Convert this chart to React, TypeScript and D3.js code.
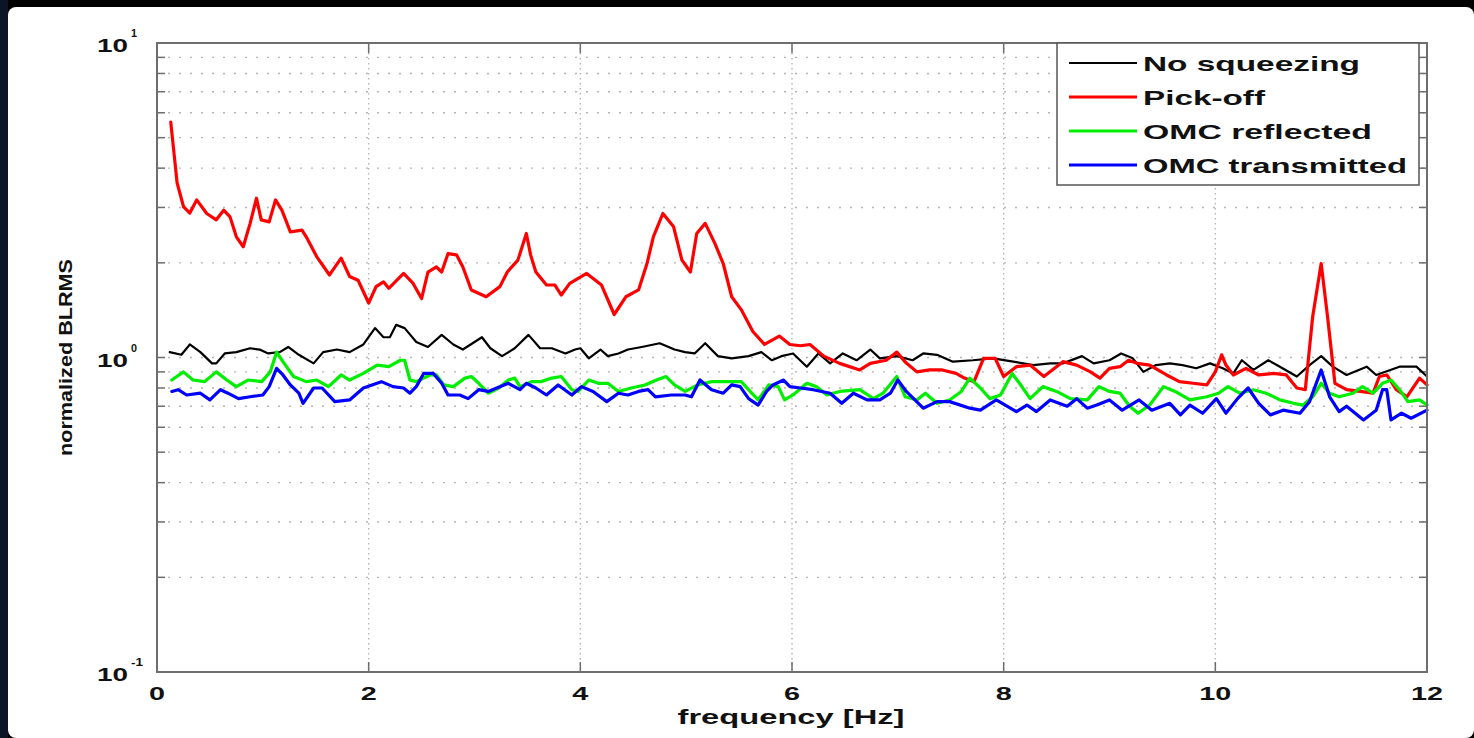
import React from "react";
import * as d3 from "d3";

type Pt = [number, number];

const seriesNames = ["No squeezing", "Pick-off", "OMC reflected", "OMC transmitted"];
const seriesColors = ["#000000", "#ff0000", "#00ee00", "#0000ff"];
const seriesWidths = [2.2, 3.2, 3.2, 3.2];

const noSqueezing: Pt[] = [
  [0.12,1.04],[0.23,1.02],[0.31,1.10],[0.41,1.04],[0.52,0.958],[0.56,0.958],[0.64,1.03],[0.75,1.04],[0.88,1.07],[0.97,1.06],
  [1.05,1.03],[1.16,1.04],[1.24,1.08],[1.34,1.02],[1.48,0.958],[1.57,1.04],[1.70,1.06],[1.82,1.04],[1.95,1.10],[2.06,1.24],
  [2.14,1.16],[2.20,1.16],[2.26,1.27],[2.34,1.24],[2.45,1.12],[2.56,1.08],[2.69,1.18],[2.80,1.10],[2.89,1.06],[3.07,1.16],
  [3.15,1.07],[3.26,1.01],[3.38,1.07],[3.51,1.18],[3.62,1.07],[3.73,1.07],[3.86,1.03],[3.95,1.06],[4.0,1.07],[4.08,0.994],
  [4.19,1.06],[4.26,1.01],[4.36,1.03],[4.45,1.06],[4.58,1.08],[4.75,1.11],[4.89,1.06],[4.99,1.04],[5.08,1.03],[5.18,1.11],
  [5.30,1.01],[5.43,0.994],[5.59,1.01],[5.71,1.04],[5.81,0.98],[5.90,1.01],[6.01,1.03],[6.14,0.935],[6.25,1.03],[6.36,0.958],
  [6.48,1.03],[6.61,0.98],[6.74,1.06],[6.83,0.994],[6.99,1.01],[7.14,0.98],[7.24,1.03],[7.37,1.02],[7.52,0.97],[7.71,0.98],
  [7.90,0.994],[8.09,0.97],[8.28,0.946],[8.44,0.958],[8.56,0.958],[8.74,1.01],[8.85,0.958],[9.0,0.98],[9.11,1.03],[9.22,0.994],
  [9.32,0.90],[9.44,0.946],[9.57,0.958],[9.69,0.946],[9.82,0.924],[9.95,0.958],[10.07,0.924],[10.17,0.89],[10.25,0.98],[10.36,0.913],
  [10.50,0.98],[10.61,0.935],[10.77,0.87],[10.89,0.946],[11.0,1.01],[11.11,0.935],[11.24,0.88],[11.43,0.935],[11.52,0.88],[11.74,0.935],
  [11.90,0.935],[12.0,0.87]
];

const pickOff: Pt[] = [
  [0.13,5.6],[0.19,3.59],[0.25,3.02],[0.31,2.88],[0.375,3.17],[0.47,2.87],[0.56,2.74],[0.63,2.94],[0.69,2.8],[0.75,2.42],
  [0.815,2.25],[0.88,2.67],[0.94,3.21],[0.985,2.74],[1.06,2.7],[1.12,3.17],[1.18,2.94],[1.26,2.51],[1.37,2.54],[1.41,2.42],
  [1.51,2.09],[1.63,1.83],[1.74,2.07],[1.82,1.81],[1.90,1.76],[2.0,1.49],[2.07,1.68],[2.14,1.74],[2.19,1.66],[2.33,1.85],
  [2.42,1.72],[2.50,1.54],[2.56,1.87],[2.64,1.94],[2.69,1.87],[2.75,2.14],[2.83,2.12],[2.89,1.94],[2.97,1.64],[3.11,1.56],
  [3.24,1.68],[3.31,1.87],[3.41,2.04],[3.49,2.48],[3.53,2.12],[3.58,1.87],[3.68,1.70],[3.76,1.70],[3.82,1.58],[3.90,1.72],
  [4.06,1.85],[4.20,1.70],[4.32,1.37],[4.43,1.56],[4.55,1.64],[4.63,1.99],[4.69,2.42],[4.78,2.87],[4.88,2.61],[4.96,2.04],
  [5.04,1.87],[5.10,2.48],[5.18,2.67],[5.27,2.31],[5.35,1.99],[5.43,1.56],[5.52,1.42],[5.63,1.21],[5.74,1.10],[5.88,1.17],
  [5.98,1.10],[6.08,1.09],[6.17,1.10],[6.30,1.01],[6.45,0.958],[6.64,0.913],[6.74,0.958],[6.89,0.98],[6.99,1.04],[7.08,0.96],
  [7.18,0.90],[7.30,0.913],[7.42,0.913],[7.55,0.89],[7.63,0.86],[7.72,0.838],[7.81,0.994],[7.92,0.994],[8.0,0.87],[8.12,0.935],
  [8.25,0.946],[8.38,0.87],[8.56,0.97],[8.69,0.946],[8.82,0.90],[8.91,0.86],[9.0,0.924],[9.10,0.935],[9.18,0.98],[9.26,0.958],
  [9.38,0.946],[9.54,0.88],[9.66,0.838],[9.79,0.828],[9.92,0.818],[10.0,0.90],[10.06,1.02],[10.10,0.946],[10.17,0.88],[10.29,0.924],
  [10.41,0.88],[10.55,0.89],[10.67,0.88],[10.77,0.80],[10.85,0.79],[10.92,1.35],[11.0,1.99],[11.06,1.35],[11.13,0.828],[11.24,0.79],
  [11.37,0.78],[11.49,0.77],[11.55,0.87],[11.62,0.88],[11.71,0.79],[11.81,0.75],[11.93,0.86],[12.0,0.818]
];

const omcReflected: Pt[] = [
  [0.14,0.848],[0.25,0.90],[0.34,0.848],[0.45,0.838],[0.56,0.90],[0.66,0.848],[0.75,0.808],[0.86,0.848],[0.99,0.838],[1.07,0.90],
  [1.13,1.04],[1.19,0.97],[1.29,0.87],[1.41,0.838],[1.51,0.848],[1.62,0.808],[1.74,0.88],[1.82,0.848],[1.95,0.89],[2.08,0.946],
  [2.19,0.935],[2.30,0.98],[2.34,0.98],[2.39,0.848],[2.45,0.838],[2.58,0.88],[2.64,0.88],[2.71,0.818],[2.80,0.808],[2.91,0.86],
  [2.97,0.87],[3.04,0.828],[3.13,0.77],[3.23,0.80],[3.32,0.848],[3.38,0.86],[3.43,0.808],[3.54,0.838],[3.63,0.838],[3.73,0.86],
  [3.82,0.87],[3.92,0.79],[3.98,0.78],[4.08,0.848],[4.17,0.828],[4.26,0.828],[4.36,0.78],[4.48,0.80],[4.61,0.818],[4.72,0.848],
  [4.81,0.87],[4.89,0.818],[4.99,0.78],[5.11,0.818],[5.24,0.838],[5.39,0.838],[5.52,0.838],[5.62,0.77],[5.68,0.733],[5.78,0.818],
  [5.87,0.808],[5.93,0.733],[6.01,0.76],[6.14,0.828],[6.23,0.808],[6.33,0.76],[6.45,0.78],[6.64,0.79],[6.77,0.74],[6.86,0.77],
  [6.99,0.87],[7.07,0.75],[7.18,0.733],[7.26,0.77],[7.37,0.715],[7.49,0.733],[7.60,0.78],[7.68,0.86],[7.78,0.80],[7.87,0.74],
  [7.97,0.76],[8.08,0.89],[8.15,0.828],[8.25,0.74],[8.37,0.808],[8.50,0.78],[8.63,0.74],[8.79,0.733],[8.90,0.808],[9.0,0.78],
  [9.10,0.77],[9.19,0.70],[9.27,0.665],[9.38,0.706],[9.51,0.808],[9.62,0.78],[9.76,0.733],[9.92,0.75],[10.03,0.77],[10.12,0.808],
  [10.23,0.77],[10.36,0.79],[10.48,0.77],[10.61,0.733],[10.74,0.715],[10.83,0.706],[10.92,0.75],[11.0,0.828],[11.08,0.77],[11.17,0.75],
  [11.30,0.77],[11.39,0.808],[11.49,0.77],[11.58,0.828],[11.66,0.848],[11.74,0.79],[11.82,0.724],[11.93,0.733],[12.0,0.706]
];

const omcTransmitted: Pt[] = [
  [0.14,0.78],[0.20,0.79],[0.28,0.76],[0.41,0.77],[0.50,0.733],[0.60,0.79],[0.67,0.77],[0.77,0.74],[0.88,0.75],[1.0,0.76],
  [1.06,0.808],[1.13,0.924],[1.19,0.88],[1.26,0.818],[1.34,0.77],[1.38,0.715],[1.48,0.80],[1.56,0.80],[1.68,0.724],[1.82,0.733],
  [1.95,0.80],[2.12,0.838],[2.23,0.808],[2.33,0.80],[2.39,0.77],[2.45,0.808],[2.52,0.89],[2.61,0.89],[2.69,0.828],[2.75,0.76],
  [2.86,0.76],[2.94,0.74],[3.04,0.79],[3.13,0.78],[3.21,0.80],[3.32,0.828],[3.43,0.79],[3.49,0.828],[3.58,0.80],[3.68,0.76],
  [3.79,0.818],[3.92,0.76],[4.01,0.808],[4.12,0.78],[4.25,0.724],[4.36,0.77],[4.45,0.76],[4.55,0.78],[4.64,0.79],[4.71,0.75],
  [4.86,0.76],[4.99,0.76],[5.05,0.75],[5.13,0.848],[5.24,0.79],[5.35,0.77],[5.43,0.818],[5.51,0.808],[5.59,0.74],[5.68,0.706],
  [5.76,0.78],[5.82,0.818],[5.92,0.848],[5.98,0.808],[6.08,0.80],[6.20,0.79],[6.36,0.77],[6.47,0.715],[6.58,0.77],[6.71,0.733],
  [6.83,0.733],[6.93,0.77],[7.00,0.848],[7.08,0.78],[7.24,0.69],[7.37,0.724],[7.49,0.724],[7.68,0.69],[7.78,0.68],[7.93,0.733],
  [8.12,0.673],[8.22,0.706],[8.31,0.673],[8.44,0.733],[8.60,0.70],[8.69,0.74],[8.79,0.69],[8.88,0.706],[9.0,0.733],[9.12,0.68],
  [9.28,0.733],[9.40,0.68],[9.57,0.715],[9.67,0.657],[9.76,0.706],[9.88,0.665],[10.01,0.74],[10.10,0.665],[10.21,0.74],[10.31,0.80],
  [10.41,0.715],[10.52,0.657],[10.64,0.68],[10.80,0.665],[10.89,0.724],[11.0,0.913],[11.08,0.75],[11.17,0.673],[11.24,0.70],[11.40,0.633],
  [11.52,0.68],[11.58,0.79],[11.62,0.79],[11.66,0.633],[11.76,0.665],[11.85,0.641],[12.0,0.68]
];

const xTicks = [0, 2, 4, 6, 8, 10, 12];
const yDecades = [{ v: 0.1, exp: "-1" }, { v: 1, exp: "0" }, { v: 10, exp: "1" }];
const yMinor = [0.2, 0.3, 0.4, 0.5, 0.6, 0.7, 0.8, 0.9, 2, 3, 4, 5, 6, 7, 8, 9];
const legendWidths = [217, 122, 229, 264];

const W = 1474;
const H = 738;
const L = 157, R = 1427, T = 43, B = 672;

export default function App() {
  const x = d3.scaleLinear().domain([0, 12]).range([L, R]);
  const y = d3.scaleLog().domain([0.1, 10]).range([B, T]);
  const line = d3.line<Pt>().x(d => x(d[0])).y(d => y(d[1]));
  const all = [noSqueezing, pickOff, omcReflected, omcTransmitted];
  const axisColor = "#6e6e6e";
  const font = "'Liberation Sans', Arial, sans-serif";

  return (
    <svg width={W} height={H} style={{ position: "absolute", left: 0, top: 0, display: "block" }}>
      <rect x={0} y={0} width={W} height={H} fill="#000" />
      <rect x={8} y={7} width={W - 8} height={H - 7} rx={8} fill="#fff" />
      <rect x={0} y={0} width={8} height={H} fill="#0c1428" />

      {/* grid */}
      {yMinor.concat([1]).map(v => (
        <line key={"hg" + v} x1={L} x2={R} y1={y(v)} y2={y(v)} stroke="#b5b5b5" strokeWidth={1.4} strokeDasharray="2,9" />
      ))}
      {xTicks.slice(1, -1).map(t => (
        <line key={"vg" + t} x1={x(t)} x2={x(t)} y1={T} y2={B} stroke="#b5b5b5" strokeWidth={1.4} strokeDasharray="1.5,3.5" />
      ))}

      {/* ticks */}
      {yMinor.concat([1]).map(v => (
        <g key={"yt" + v}>
          <line x1={L} x2={L + 8} y1={y(v)} y2={y(v)} stroke={axisColor} strokeWidth={1.5} />
          <line x1={R} x2={R - 8} y1={y(v)} y2={y(v)} stroke={axisColor} strokeWidth={1.5} />
        </g>
      ))}
      {xTicks.slice(1, -1).map(t => (
        <g key={"xt" + t}>
          <line x1={x(t)} x2={x(t)} y1={B} y2={B - 10} stroke={axisColor} strokeWidth={1.5} />
          <line x1={x(t)} x2={x(t)} y1={T} y2={T + 10} stroke={axisColor} strokeWidth={1.5} />
        </g>
      ))}

      {/* series */}
      {all.map((s, i) => (
        <path key={"s" + i} d={line(s) || ""} fill="none" stroke={seriesColors[i]} strokeWidth={seriesWidths[i]}
          strokeLinejoin="round" strokeLinecap="round" />
      ))}

      {/* axes box */}
      <rect x={L} y={T} width={R - L} height={B - T} fill="none" stroke={axisColor} strokeWidth={2} />

      {/* x tick labels */}
      {xTicks.map(t => (
        <text key={"xl" + t} x={x(t)} y={700} textAnchor="middle" fontFamily={font} fontWeight="bold" fontSize={18}
          textLength={String(t).length * 16} lengthAdjust="spacingAndGlyphs" fill="#111">{t}</text>
      ))}

      {/* y tick labels */}
      {yDecades.map(d => (
        <g key={"yl" + d.v}>
          <text x={97} y={y(d.v) + 9} fontFamily={font} fontWeight="bold" fontSize={19}
            textLength={31} lengthAdjust="spacingAndGlyphs" fill="#111">10</text>
          <text x={131} y={y(d.v) - 6} fontFamily={font} fontWeight="bold" fontSize={11}
            textLength={d.exp.length * 6} lengthAdjust="spacingAndGlyphs" fill="#111">{d.exp}</text>
        </g>
      ))}

      {/* axis labels */}
      <text x={791} y={724} textAnchor="middle" fontFamily={font} fontWeight="bold" fontSize={20}
        textLength={227} lengthAdjust="spacingAndGlyphs" fill="#111">frequency [Hz]</text>
      <text transform={`translate(72,${(T + B) / 2}) rotate(-90)`} textAnchor="middle" fontFamily={font}
        fontWeight="bold" fontSize={18} textLength={197} lengthAdjust="spacingAndGlyphs" fill="#111">normalized BLRMS</text>

      {/* legend */}
      <rect x={1057} y={43} width={362} height={142} fill="#fff" stroke="#555" strokeWidth={1.5} />
      {seriesNames.map((n, i) => {
        const ry = 63 + i * 34;
        return (
          <g key={"lg" + i}>
            <line x1={1069} x2={1137} y1={ry} y2={ry} stroke={seriesColors[i]} strokeWidth={i === 0 ? 2 : 3} />
            <text x={1143} y={ry + 8} fontFamily={font} fontWeight="bold" fontSize={21}
              textLength={legendWidths[i]} lengthAdjust="spacingAndGlyphs" fill="#111">{n}</text>
          </g>
        );
      })}
    </svg>
  );
}
